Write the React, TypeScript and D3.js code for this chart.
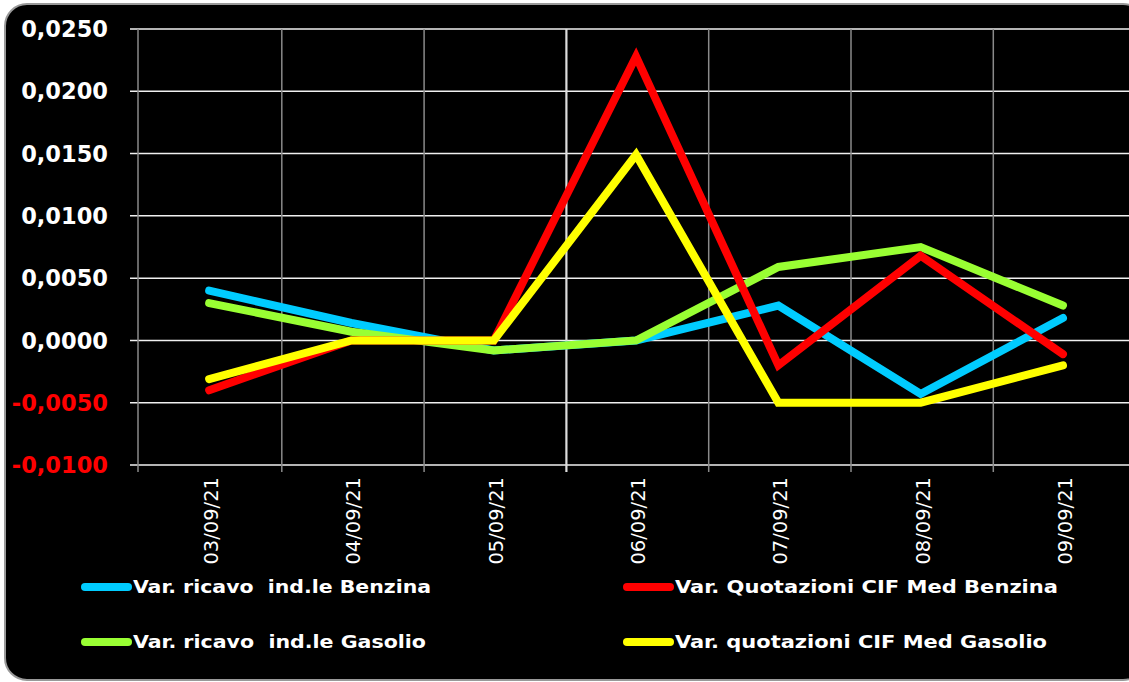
import React from "react";
import { scaleBand, scaleLinear, line } from "d3";

const dates = ["03/09/21", "04/09/21", "05/09/21", "06/09/21", "07/09/21", "08/09/21", "09/09/21"];
const ricavoBenzina = [0.004, 0.0014, -0.0008, 0.0, 0.0028, -0.0043, 0.0018];
const quotBenzina = [-0.004, 0.0, 0.0, 0.0228, -0.002, 0.0068, -0.0011];
const ricavoGasolio = [0.003, 0.0007, -0.0008, 0.0, 0.0059, 0.0075, 0.0028];
const quotGasolio = [-0.0031, 0.0, 0.0, 0.0149, -0.005, -0.005, -0.002];
const yTicks = [0.025, 0.02, 0.015, 0.01, 0.005, 0, -0.005, -0.01];

const series = [
  { name: "Var. ricavo  ind.le Benzina", values: ricavoBenzina, color: "#00ccff" },
  { name: "Var. ricavo  ind.le Gasolio", values: ricavoGasolio, color: "#99ff33" },
  { name: "Var. Quotazioni CIF Med Benzina", values: quotBenzina, color: "#ff0000" },
  { name: "Var. quotazioni CIF Med Gasolio", values: quotGasolio, color: "#ffff00" },
];

// legend order as in the picture: two columns
const legend = [
  { s: 0, col: 0, row: 0, w: 298 },
  { s: 2, col: 1, row: 0, w: 383 },
  { s: 1, col: 0, row: 1, w: 293 },
  { s: 3, col: 1, row: 1, w: 372 },
];

const fmt = (v: number) => v.toFixed(4).replace(".", ",");

export default function App() {
  const left = 139.5;
  const bw = 142.3;
  const x = scaleBand().domain(dates).range([left, left + bw * dates.length]).padding(0);
  const y = scaleLinear().domain([-0.01, 0.025]).range([465, 29]);
  const cx = (d: string) => x(d)! + x.bandwidth() / 2 - 1.5;

  const path = line<number>()
    .x((_, i) => cx(dates[i]))
    .y((v) => y(v));

  return (
    <div>
      <style>{`body{margin:0;background:#fff}`}</style>
      <svg width={1129} height={682} style={{ display: "block" }}>
        <rect x={5} y={4} width={1140} height={676} rx={22} fill="#000" stroke="#999" strokeWidth={2} />

        {/* horizontal grid */}
        {yTicks.map((t) => (
          <line key={t} x1={130} x2={1140} y1={y(t)} y2={y(t)} stroke="#f0f0f0" strokeWidth={1.5} />
        ))}

        {/* vertical grid + axis */}
        {dates.map((d, i) => {
          const gx = i === 0 ? 138 : x(d)!;
          const bright = i === 3;
          return (
            <line
              key={d}
              x1={gx}
              x2={gx}
              y1={y(0.025)}
              y2={472}
              stroke={bright ? "#dddddd" : "#8a8a8a"}
              strokeWidth={bright ? 2.2 : 1.5}
            />
          );
        })}

        {/* y labels */}
        {yTicks.map((t) => (
          <text
            key={t}
            x={108}
            y={y(t)}
            dy="0.36em"
            textAnchor="end"
            fontFamily="DejaVu Sans"
            fontWeight="bold"
            fontSize={22.5}
            fill={t < 0 ? "#ff0000" : "#ffffff"}
          >
            {fmt(t)}
          </text>
        ))}

        {/* x labels */}
        {dates.map((d) => (
          <text
            key={d}
            transform={`translate(${cx(d) + 2},477) rotate(-90)`}
            dy="0.36em"
            textAnchor="end"
            fontFamily="DejaVu Sans"
            fontSize={19.5}
            fill="#ffffff"
          >
            {d}
          </text>
        ))}

        {/* series lines */}
        {[0, 1, 2, 3].map((k) => (
          <path
            key={k}
            d={path(series[k].values)!}
            fill="none"
            stroke={series[k].color}
            strokeWidth={8}
            strokeLinecap="round"
            strokeLinejoin="miter"
          />
        ))}

        {/* legend */}
        {legend.map((l) => {
          const s = series[l.s];
          const lx = l.col === 0 ? 85 : 627;
          const ly = l.row === 0 ? 587 : 642;
          return (
            <g key={l.s}>
              <line x1={lx} x2={lx + 43} y1={ly} y2={ly} stroke={s.color} strokeWidth={8} strokeLinecap="round" />
              <text
                x={lx + 48}
                y={ly}
                dy="0.36em"
                fontFamily="DejaVu Sans Condensed, DejaVu Sans"
                fontWeight="bold"
                fontSize={18}
                fill="#ffffff"
                textLength={l.w}
                lengthAdjust="spacingAndGlyphs"
                style={{ whiteSpace: "pre" }}
              >
                {s.name}
              </text>
            </g>
          );
        })}
      </svg>
    </div>
  );
}
